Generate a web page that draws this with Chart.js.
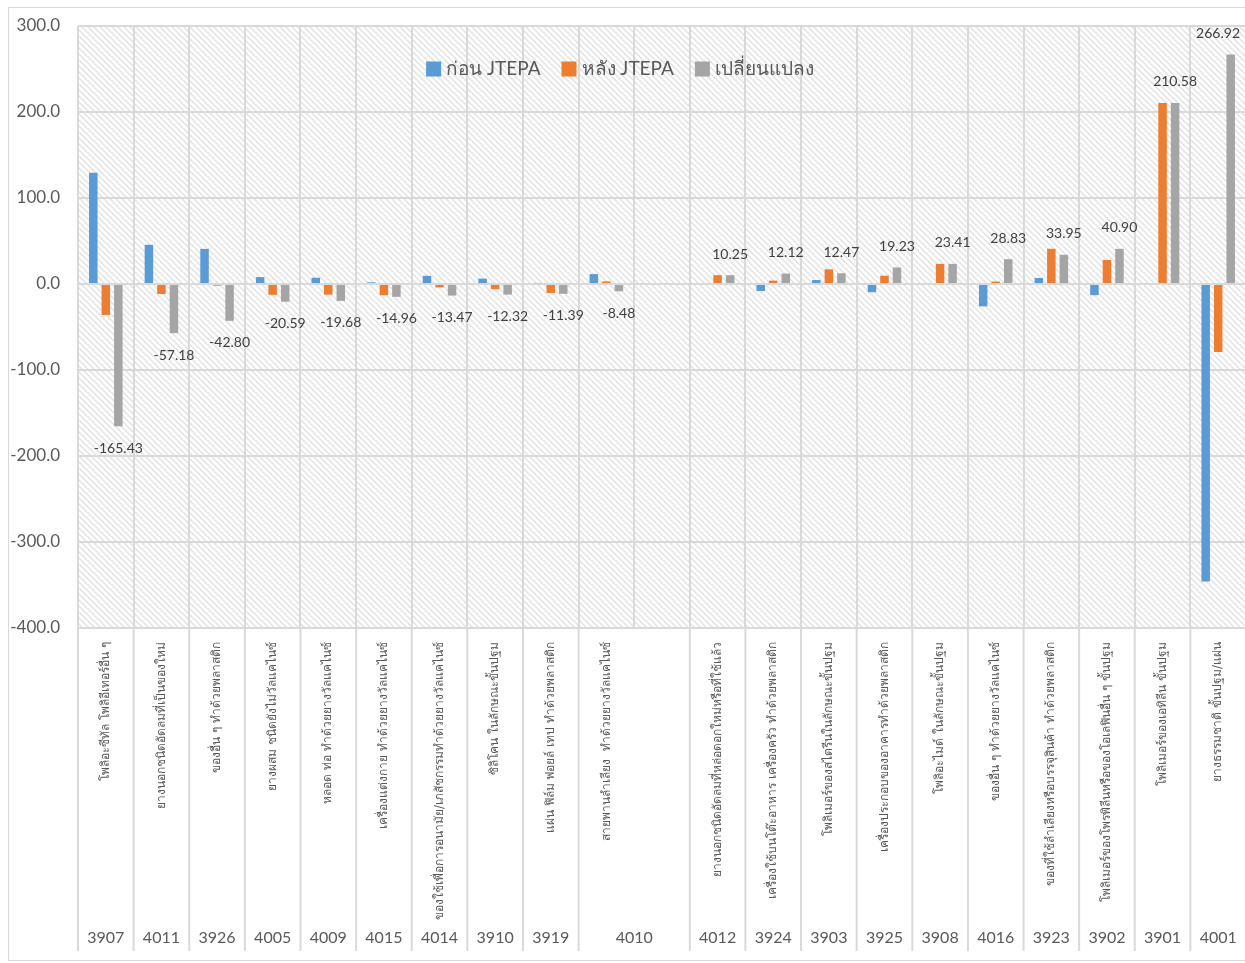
<!DOCTYPE html>
<html>
<head>
<meta charset="utf-8">
<script src="https://cdn.jsdelivr.net/npm/chart.js@4"></script>
<style>
  body { margin: 0; background: #fff; }
  #box { position: absolute; left: 8px; top: 7px; width: 1240px; height: 952px; border: 1px solid #d9d9d9; }
  #chart { display: block; }
</style>
</head>
<body>
<div id="box"><canvas id="chart" width="1237" height="951"></canvas></div>
<script>
// HS codes (bottom row); '' = empty slot merged with the code before it
const codes = ['3907', '4011', '3926', '4005', '4009', '4015', '4014', '3910', '3919', '4010', '',
  '4012', '3924', '3903', '3925', '3908', '4016', '3923', '3902', '3901', '4001'];

const names = [
  'โพลิอะซีทัล โพลิอีเทอร์อื่น ๆ',
  'ยางนอกชนิดอัดลมที่เป็นของใหม่',
  'ของอื่น ๆ ทำด้วยพลาสติก',
  'ยางผสม ชนิดยังไม่วัลแคไนซ์',
  'หลอด ท่อ ทำด้วยยางวัลแคไนซ์',
  'เครื่องแต่งกาย ทำด้วยยางวัลแคไนซ์',
  'ของใช้เพื่อการอนามัย/เภสัชกรรมทำด้วยยางวัลแคไนซ์',
  'ซิลิโคน ในลักษณะขั้นปฐม',
  'แผ่น ฟิล์ม ฟอยล์ เทป ทำด้วยพลาสติก',
  'สายพานลำเลียง  ทำด้วยยางวัลแคไนซ์',
  '',
  'ยางนอกชนิดอัดลมที่หล่อดอกใหม่หรือที่ใช้แล้ว',
  'เครื่องใช้บนโต๊ะอาหาร เครื่องครัว ทำด้วยพลาสติก',
  'โพลิเมอร์ของสไตรีนในลักษณะขั้นปฐม',
  'เครื่องประกอบของอาคารทำด้วยพลาสติก',
  'โพลิอะไมด์ ในลักษณะขั้นปฐม',
  'ของอื่น ๆ ทำด้วยยางวัลแคไนซ์',
  'ของที่ใช้ลำเลียงหรือบรรจุสินค้า ทำด้วยพลาสติก',
  'โพลิเมอร์ของโพรพิลีนหรือของโอเลฟินอื่น ๆ ขั้นปฐม',
  'โพลิเมอร์ของเอทิลีน ขั้นปฐม',
  'ยางธรรมชาติ ขั้นปฐม/แผ่น'
];

const seriesNames = ['ก่อน JTEPA', 'หลัง JTEPA', 'เปลี่ยนแปลง'];

const before = [129.43, 45.6, 40.8, 8.0, 7.3, 2.0, 9.5, 6.3, 1.0, 11.5, null,
  0, -8.2, 4.6, -9.6, 0, -26.0, 7.0, -13.0, 0, -346.0];
const after = [-36.0, -11.58, -2.0, -12.59, -12.38, -12.96, -3.97, -6.02, -10.39, 3.02, null,
  10.25, 3.92, 17.07, 9.63, 23.41, 2.83, 40.95, 27.9, 210.58, -79.08];
const change = [-165.43, -57.18, -42.80, -20.59, -19.68, -14.96, -13.47, -12.32, -11.39, -8.48, null,
  10.25, 12.12, 12.47, 19.23, 23.41, 28.83, 33.95, 40.90, 210.58, 266.92];

const yTicks = [-400, -300, -200, -100, 0, 100, 200, 300];

const textColor = '#595959';
const gridColor = '#d9d9d9';
const colors = ['#5B9BD5', '#ED7D31', '#A5A5A5'];

// diagonal hatch for the plot area
function hatch() {
  const c = document.createElement('canvas');
  c.width = 6; c.height = 6;
  const g = c.getContext('2d');
  g.fillStyle = '#fff';
  g.fillRect(0, 0, 6, 6);
  g.strokeStyle = '#e2e2e2';
  g.lineWidth = 1.5;
  g.beginPath();
  g.moveTo(-1, -1); g.lineTo(7, 7);
  g.moveTo(-1, 5); g.lineTo(1, 7);
  g.moveTo(5, -1); g.lineTo(7, 1);
  g.stroke();
  return g.createPattern(c, 'repeat');
}

const bgPlugin = {
  id: 'bg',
  beforeDraw(chart) {
    const { ctx, chartArea: a } = chart;
    ctx.save();
    ctx.fillStyle = hatch();
    ctx.fillRect(a.left, a.top, a.right - a.left, a.bottom - a.top);
    ctx.restore();
  }
};

// legend drawn over the plot area, like the original
const legendPlugin = {
  id: 'floatLegend',
  afterDatasetsDraw(chart) {
    const { ctx, chartArea: a } = chart;
    ctx.save();
    ctx.font = '19px Lato, "Open Sans", Tahoma, sans-serif';
    ctx.textBaseline = 'middle';
    const items = chart.data.datasets.map(ds => ({ label: ds.label, color: ds.backgroundColor, w: ctx.measureText(ds.label).width }));
    const box = 15, gap = 5, space = 21;
    const total = items.reduce((s, it) => s + box + gap + it.w, 0) + space * (items.length - 1);
    let px = 611 - total / 2;
    const cy = a.top + 43;
    items.forEach(it => {
      ctx.fillStyle = it.color;
      ctx.fillRect(px, cy - box / 2, box, box);
      px += box + gap;
      ctx.fillStyle = textColor;
      ctx.fillText(it.label, px, cy);
      px += it.w + space;
    });
    ctx.restore();
  }
};

// category labels: rotated names + codes, with separators below the plot
const axisPlugin = {
  id: 'axisLabels',
  afterDraw(chart) {
    const { ctx, chartArea: a, scales: { x } } = chart;
    const half = (x.getPixelForValue(1) - x.getPixelForValue(0)) / 2;
    const bottom = chart.height - 8;
    ctx.save();
    ctx.strokeStyle = gridColor;
    ctx.lineWidth = 2;
    for (let i = 0; i <= codes.length; i++) {
      if (i < codes.length && codes[i] === '') continue;
      const px = i < codes.length ? x.getPixelForValue(i) - half : x.getPixelForValue(i - 1) + half;
      ctx.beginPath();
      ctx.moveTo(px, a.bottom);
      ctx.lineTo(px, bottom);
      ctx.stroke();
    }
    ctx.fillStyle = textColor;
    ctx.font = '16px Lato, "Open Sans", sans-serif';
    ctx.textAlign = 'center';
    ctx.textBaseline = 'middle';
    codes.forEach((c, i) => {
      if (!c) return;
      let px = x.getPixelForValue(i);
      if (codes[i + 1] === '') px += half;
      ctx.fillText(c, px, chart.height - 21);
    });
    ctx.font = '12px Tahoma, "DejaVu Sans", sans-serif';
    ctx.textAlign = 'right';
    names.forEach((n, i) => {
      if (!n) return;
      ctx.save();
      ctx.translate(x.getPixelForValue(i), a.bottom + 14);
      ctx.rotate(-Math.PI / 2);
      ctx.fillText(n, 0, 0);
      ctx.restore();
    });
    ctx.restore();
  }
};

// value labels for the change series
const valuePlugin = {
  id: 'values',
  afterDatasetsDraw(chart) {
    const { ctx } = chart;
    const meta = chart.getDatasetMeta(2);
    ctx.save();
    ctx.fillStyle = '#404040';
    ctx.font = '14px Lato, "Open Sans", sans-serif';
    ctx.textAlign = 'center';
    ctx.textBaseline = 'middle';
    meta.data.forEach((bar, i) => {
      const v = change[i];
      if (v === null) return;
      const txt = v.toFixed(2);
      const w = ctx.measureText(txt).width;
      const y = v >= 0 ? bar.y - 21 : bar.y + 22;
      const tx = Math.min(bar.x, chart.width - w / 2 - 6);
      ctx.fillText(txt, tx, y);
    });
    ctx.restore();
  }
};

const values = [before, after, change];

new Chart(document.getElementById('chart'), {
  type: 'bar',
  data: {
    labels: codes,
    datasets: values.map((d, i) => ({
      label: seriesNames[i],
      data: d,
      backgroundColor: colors[i],
      borderWidth: 0,
      categoryPercentage: 0.675,
      barPercentage: 0.68
    }))
  },
  options: {
    responsive: false,
    animation: false,
    layout: { padding: { top: 18, bottom: 331, right: 0, left: 0 } },
    plugins: {
      tooltip: { enabled: false },
      legend: { display: false }
    },
    scales: {
      x: {
        ticks: { display: false },
        grid: { color: gridColor, lineWidth: 2, drawTicks: false, offset: true },
        border: { display: false }
      },
      y: {
        min: -400,
        max: 300,
        afterBuildTicks(scale) { scale.ticks = yTicks.map(v => ({ value: v })); },
        afterFit(scale) {
          scale.width = 69;
          scale.paddingTop = 0;
          scale.paddingBottom = 0;
        },
        ticks: {
          color: textColor,
          padding: 18,
          font: { size: 17, family: 'Lato, "Open Sans", sans-serif' },
          callback: v => v.toFixed(1)
        },
        grid: { color: gridColor, lineWidth: 2, drawTicks: false },
        border: { display: false }
      }
    }
  },
  plugins: [bgPlugin, legendPlugin, axisPlugin, valuePlugin]
});
</script>
</body>
</html>
